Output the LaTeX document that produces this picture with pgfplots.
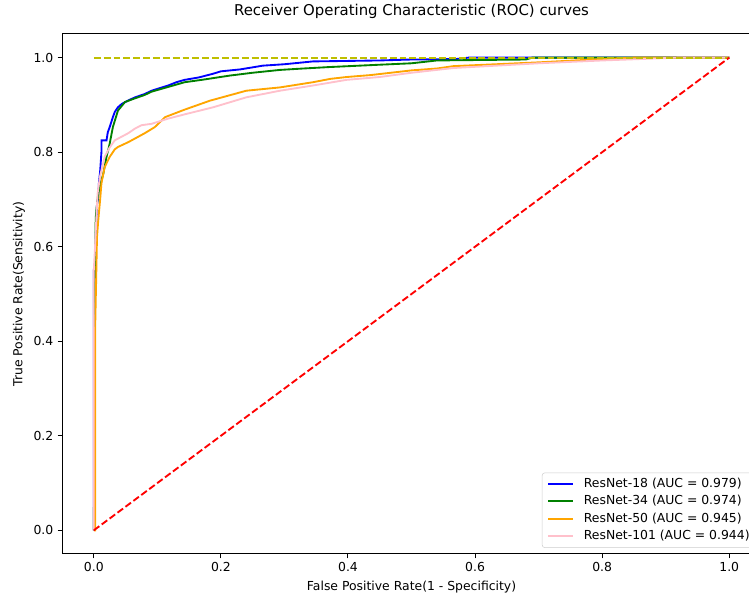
\documentclass[border=0pt]{standalone}
\usepackage{fontspec}
\setmainfont{DejaVu Sans}
\usepackage{pgfplots}
\pgfplotsset{compat=1.18}

\definecolor{mplblue}{HTML}{0000FF}
\definecolor{mplgreen}{HTML}{008000}
\definecolor{mplorange}{HTML}{FFA500}
\definecolor{mplpink}{HTML}{FFC0CB}
\definecolor{mplred}{HTML}{FF0000}
\definecolor{mplolive}{HTML}{BFBF00}

\begin{document}
\begin{tikzpicture}
\begin{axis}[
    scale only axis, width=563.4pt, height=419.1pt,
    xmin=-0.05, xmax=1.05, ymin=-0.05, ymax=1.05,
    xtick={0,0.2,0.4,0.6,0.8,1.0}, ytick={0,0.2,0.4,0.6,0.8,1.0},
    /pgf/number format/.cd, fixed, fixed zerofill, precision=1, assume math mode=true,
    /pgfplots/.cd,
    tick align=outside, tick pos=left, major tick length=3.5pt,
    every tick/.style={black, line width=0.8pt},
    axis line style={line width=0.8pt},
    ticklabel style={font=\fontsize{10}{12}\selectfont},
    title={Receiver Operating Characteristic (ROC) curves},
    title style={font=\fontsize{12}{14.4}\selectfont, inner sep=0pt, yshift=6pt},
    xlabel={False Positive Rate(1 - Specificity)},
    ylabel={True Positive Rate(Sensitivity)},
    label style={font=\fontsize{10}{12}\selectfont},
    legend cell align=left,
    legend image code/.code={\draw[#1, line width=1.6pt] (0pt,0pt) -- (20pt,0pt);},
    legend style={at={(1,0)}, anchor=south east, xshift=-5pt, yshift=5pt,
        draw=black!20, rounded corners=2pt, inner sep=4pt, column sep=8pt, row sep=4.3pt,
        font=\fontsize{10}{12}\selectfont,
        nodes={inner sep=0pt, text height=7.5pt, text depth=2.3pt}},
]
% ResNet-18
\addplot[mplblue, line width=1.5pt] coordinates {
(0,0) (0,0.55) (0.003,0.55) (0.003,0.62) (0.005,0.69) (0.007,0.705) (0.008,0.734)
(0.010,0.76) (0.012,0.80) (0.012,0.825) (0.020,0.825) (0.022,0.842) (0.025,0.853)
(0.030,0.874) (0.033,0.885) (0.038,0.895) (0.044,0.902) (0.055,0.910) (0.065,0.916)
(0.080,0.923) (0.091,0.930) (0.105,0.936) (0.117,0.941) (0.130,0.948) (0.143,0.953)
(0.165,0.958) (0.188,0.966) (0.200,0.971) (0.230,0.975) (0.266,0.983) (0.300,0.986)
(0.345,0.992) (0.400,0.993) (0.450,0.994) (0.500,0.996) (0.570,0.997) (0.590,1.0) (1,1)};
% ResNet-34
\addplot[mplgreen, line width=1.5pt] coordinates {
(0,0) (0.002,0.50) (0.003,0.66) (0.004,0.677) (0.006,0.700) (0.007,0.713) (0.012,0.740)
(0.015,0.755) (0.020,0.790) (0.025,0.818) (0.030,0.853) (0.038,0.888) (0.049,0.906)
(0.065,0.914) (0.080,0.921) (0.091,0.928) (0.117,0.938) (0.143,0.948) (0.170,0.953)
(0.214,0.962) (0.250,0.968) (0.293,0.974) (0.330,0.977) (0.370,0.980) (0.450,0.985)
(0.500,0.988) (0.540,0.994) (0.680,0.996) (0.690,1.0) (1,1)};
% ResNet-50
\addplot[mplorange, line width=1.5pt] coordinates {
(0,0) (0.002,0) (0.002,0.42) (0.004,0.55) (0.005,0.62) (0.007,0.656) (0.010,0.700)
(0.012,0.734) (0.017,0.768) (0.025,0.790) (0.033,0.806) (0.038,0.811) (0.054,0.821)
(0.065,0.829) (0.080,0.840) (0.096,0.853) (0.112,0.874) (0.143,0.890) (0.183,0.909)
(0.240,0.930) (0.293,0.937) (0.345,0.948) (0.372,0.955) (0.398,0.959) (0.435,0.963)
(0.500,0.973) (0.540,0.977) (0.566,0.982) (0.700,0.990) (0.800,0.997) (0.850,1.0) (1,1)};
% ResNet-101
\addplot[mplpink, line width=1.5pt] coordinates {
(0,0) (0,0.55) (0.002,0.60) (0.004,0.66) (0.006,0.713) (0.010,0.750) (0.017,0.790)
(0.025,0.810) (0.033,0.825) (0.054,0.840) (0.065,0.850) (0.075,0.857) (0.091,0.860)
(0.117,0.871) (0.143,0.880) (0.188,0.895) (0.240,0.916) (0.293,0.930) (0.345,0.941)
(0.398,0.953) (0.450,0.959) (0.500,0.968) (0.566,0.978) (0.700,0.988) (0.800,0.994)
(0.900,0.999) (0.920,1.0) (1,1)};
\addplot[mplolive, line width=1.5pt, dash pattern=on 5.55pt off 2.4pt, forget plot] coordinates {(0,1) (1,1)};
\addplot[mplred, line width=1.5pt, dash pattern=on 5.55pt off 2.4pt, forget plot] coordinates {(0,0) (1,1)};
\legend{ResNet-18 (AUC = 0.979), ResNet-34 (AUC = 0.974), ResNet-50 (AUC = 0.945), ResNet-101 (AUC = 0.944)}
\end{axis}
\pgfresetboundingbox
\path ([xshift=-50.0pt,yshift=-31.4pt]current axis.south west) rectangle ([xshift=-9.7pt,yshift=27.4pt]current axis.north east);
\end{tikzpicture}
\end{document}
